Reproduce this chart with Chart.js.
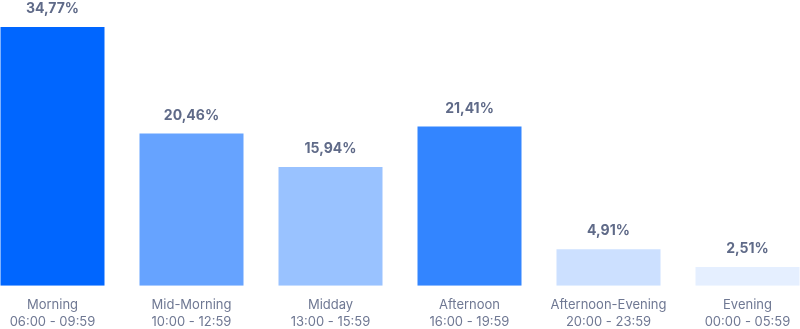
<!DOCTYPE html>
<html>
<head>
<meta charset="utf-8">
<script src="https://cdn.jsdelivr.net/npm/chart.js@4.4.1/dist/chart.umd.min.js"></script>
<style>
  html, body { margin: 0; padding: 0; background: #fff; overflow: hidden; }
  #wrap { position: relative; width: 834px; height: 342px; margin-left: -17px; }
</style>
</head>
<body>
<div id="wrap"><canvas id="chart_share"></canvas></div>
<script>
const periodNames = ['Morning', 'Mid-Morning', 'Midday', 'Afternoon', 'Afternoon-Evening', 'Evening'];
const periodHours = ['06:00 - 09:59', '10:00 - 12:59', '13:00 - 15:59', '16:00 - 19:59', '20:00 - 23:59', '00:00 - 05:59'];
const shareValues = [34.77, 20.46, 15.94, 21.41, 4.91, 2.51];
const barColors = ['#0066ff', '#66a3ff', '#99c2ff', '#3385ff', '#cce0ff', '#e5efff'];

const formatPct = (n) => n.toFixed(2).replace('.', ',') + '%';

// value labels above each bar
const valueLabels = {
  id: 'valueLabels',
  afterDatasetsDraw(chart) {
    const ctx = chart.ctx;
    const meta = chart.getDatasetMeta(0);
    ctx.save();
    ctx.font = '700 14px Inter, "Noto Sans", sans-serif';
    ctx.fillStyle = '#5f6a88';
    ctx.textAlign = 'center';
    ctx.textBaseline = 'middle';
    meta.data.forEach((bar, i) => {
      ctx.fillText(formatPct(shareValues[i]), bar.x, bar.y - 18);
    });
    ctx.restore();
  }
};

new Chart(document.getElementById('chart_share').getContext('2d'), {
  type: 'bar',
  data: {
    labels: periodNames.map((n, i) => [n, periodHours[i]]),
    datasets: [{
      data: shareValues,
      backgroundColor: barColors,
      borderWidth: 0,
      barPercentage: 1,
      categoryPercentage: 104 / 139,
    }]
  },
  options: {
    responsive: true,
    maintainAspectRatio: false,
    animation: false,
    layout: { padding: { top: 27, left: 0, right: 0, bottom: 0 } },
    plugins: {
      legend: { display: false },
      tooltip: { enabled: false }
    },
    scales: {
      x: {
        grid: { display: false, drawTicks: false },
        border: { display: false },
        ticks: {
          color: '#6f7893',
          font: { family: 'Inter, "Noto Sans", sans-serif', size: 13, lineHeight: 1.32 },
          padding: 11,
          maxRotation: 0,
          autoSkip: false
        }
      },
      y: {
        display: false,
        min: 0,
        max: 34.77
      }
    }
  },
  plugins: [valueLabels]
});
</script>
</body>
</html>
